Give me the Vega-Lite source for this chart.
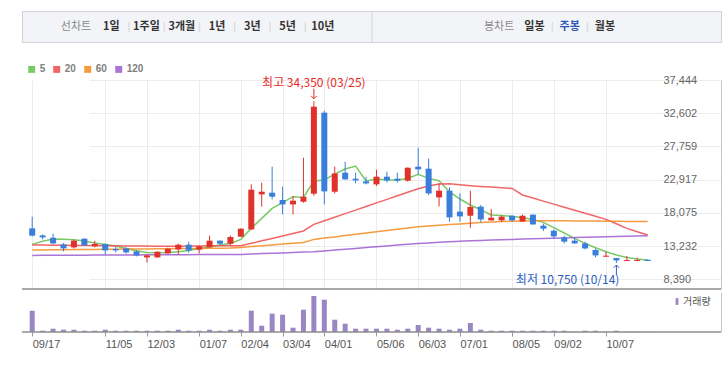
{
"$schema": "https://vega.github.io/schema/vega-lite/v6.json",
"padding": {"left": 21, "top": 10, "right": 0, "bottom": 0},
"background": "white",
"config": {"view": {"stroke": null}, "font": "Liberation Sans", "axis": {"labelFont": "Liberation Sans", "labelOverlap": false}, "legend": {"labelFont": "Liberation Sans"}},
"datasets": {
"hdr": [{"t":"선차트"},{"t":"1일"},{"t":"1주일"},{"t":"3개월"},{"t":"1년"},{"t":"3년"},{"t":"5년"},{"t":"10년"},{"t":"봉차트"},{"t":"일봉"},{"t":"주봉"},{"t":"월봉"}],
"w": [
{"d":"2018-09-17","o":15800,"h":17510,"l":14630,"c":14740,"vol":2130,"5":13466,"20":13379,"60":12649,"120":11862},
{"d":"2018-09-24","o":14780,"h":14930,"l":14200,"c":14490,"vol":130,"5":13933,"20":13364,"60":12664,"120":11869},
{"d":"2018-10-01","o":14440,"h":15030,"l":13470,"c":13610,"vol":330,"5":14254,"20":13350,"60":12678,"120":11877},
{"d":"2018-10-08","o":13470,"h":13670,"l":12450,"c":12880,"vol":230,"5":14225,"20":13335,"60":12693,"120":11884},
{"d":"2018-10-15","o":13030,"h":14150,"l":12880,"c":14010,"vol":230,"5":14152,"20":13321,"60":12707,"120":11891},
{"d":"2018-10-22","o":14300,"h":14340,"l":13280,"c":13320,"vol":130,"5":13962,"20":13306,"60":12722,"120":11898},
{"d":"2018-10-29","o":13180,"h":14010,"l":13030,"c":13530,"vol":130,"5":13670,"20":13292,"60":12737,"120":11906},
{"d":"2018-11-05","o":13530,"h":13570,"l":11970,"c":12590,"vol":230,"5":13466,"20":13277,"60":12751,"120":11913},
{"d":"2018-11-12","o":12800,"h":13090,"l":12300,"c":12590,"vol":130,"5":13233,"20":13262,"60":12766,"120":11920},
{"d":"2018-11-19","o":12880,"h":13030,"l":12110,"c":12300,"vol":130,"5":12883,"20":13248,"60":12780,"120":11928},
{"d":"2018-11-26","o":12450,"h":12590,"l":11720,"c":11860,"vol":130,"5":12547,"20":13233,"60":12795,"120":11935},
{"d":"2018-12-03","o":11570,"h":12010,"l":10840,"c":11860,"vol":130,"5":12299,"20":13219,"60":12810,"120":11942},
{"d":"2018-12-10","o":11570,"h":12450,"l":11520,"c":12400,"vol":130,"5":12255,"20":13204,"60":12824,"120":11950},
{"d":"2018-12-17","o":12150,"h":12990,"l":12110,"c":12840,"vol":130,"5":12299,"20":13204,"60":12839,"120":11957},
{"d":"2018-12-24","o":12740,"h":13570,"l":11970,"c":13420,"vol":230,"5":12401,"20":13204,"60":12853,"120":11964},
{"d":"2018-12-31","o":13420,"h":13860,"l":12260,"c":12590,"vol":130,"5":12591,"20":13219,"60":12868,"120":11971},
{"d":"2019-01-07","o":12700,"h":13320,"l":12150,"c":13180,"vol":130,"5":12883,"20":13233,"60":12883,"120":11979},
{"d":"2019-01-14","o":13030,"h":14740,"l":12980,"c":14010,"vol":230,"5":13131,"20":13262,"60":12897,"120":11986},
{"d":"2019-01-21","o":14010,"h":14050,"l":13320,"c":13570,"vol":130,"5":13379,"20":13277,"60":12912,"120":11993},
{"d":"2019-01-28","o":13570,"h":14740,"l":13320,"c":14550,"vol":230,"5":13612,"20":13262,"60":12941,"120":12001},
{"d":"2019-02-04","o":14590,"h":15800,"l":14560,"c":15760,"vol":230,"5":14200,"20":13277,"60":13029,"120":12008},
{"d":"2019-02-11","o":15650,"h":22220,"l":15600,"c":21440,"vol":2130,"5":15800,"20":13627,"60":13145,"120":12066},
{"d":"2019-02-18","o":20760,"h":22470,"l":18970,"c":21150,"vol":630,"5":17258,"20":13991,"60":13277,"120":12125},
{"d":"2019-02-25","o":21010,"h":24800,"l":20030,"c":20420,"vol":1830,"5":18717,"20":14341,"60":13393,"120":12183},
{"d":"2019-03-04","o":19940,"h":21880,"l":17840,"c":19300,"vol":1730,"5":19548,"20":14706,"60":13510,"120":12227},
{"d":"2019-03-11","o":19300,"h":20530,"l":17840,"c":19840,"vol":430,"5":20423,"20":15056,"60":13641,"120":12285},
{"d":"2019-03-18","o":19690,"h":26110,"l":19550,"c":20420,"vol":2230,"5":20321,"20":15421,"60":13758,"120":12344},
{"d":"2019-03-25","o":20860,"h":34350,"l":20570,"c":33550,"vol":3600,"5":22713,"20":16383,"60":14195,"120":12402},
{"d":"2019-04-01","o":32680,"h":32970,"l":19300,"c":21200,"vol":3230,"5":22859,"20":16923,"60":14385,"120":12519},
{"d":"2019-04-08","o":21150,"h":24800,"l":20900,"c":23820,"vol":1230,"5":23705,"20":17433,"60":14560,"120":12650},
{"d":"2019-04-15","o":23920,"h":25530,"l":22900,"c":22950,"vol":830,"5":24463,"20":17958,"60":14750,"120":12767},
{"d":"2019-04-22","o":23050,"h":23920,"l":22360,"c":22800,"vol":330,"5":24901,"20":18469,"60":14939,"120":12884},
{"d":"2019-04-29","o":22660,"h":23300,"l":22220,"c":22360,"vol":330,"5":22713,"20":18994,"60":15114,"120":13000},
{"d":"2019-05-06","o":22220,"h":24360,"l":21980,"c":23340,"vol":330,"5":23005,"20":19519,"60":15304,"120":13131},
{"d":"2019-05-13","o":23340,"h":24070,"l":22510,"c":22800,"vol":330,"5":22859,"20":20030,"60":15494,"120":13248},
{"d":"2019-05-20","o":23050,"h":23920,"l":22470,"c":22760,"vol":230,"5":22859,"20":20555,"60":15683,"120":13365},
{"d":"2019-05-27","o":22760,"h":24700,"l":22610,"c":24650,"vol":330,"5":23092,"20":21080,"60":15858,"120":13496},
{"d":"2019-06-03","o":24800,"h":27570,"l":23680,"c":24410,"vol":700,"5":23676,"20":21590,"60":16048,"120":13613},
{"d":"2019-06-10","o":24510,"h":25970,"l":20670,"c":20900,"vol":430,"5":23092,"20":21984,"60":16150,"120":13686},
{"d":"2019-06-17","o":20320,"h":22360,"l":19010,"c":21300,"vol":330,"5":22757,"20":22290,"60":16252,"120":13773},
{"d":"2019-06-24","o":21300,"h":21780,"l":16780,"c":17410,"vol":230,"5":21152,"20":22319,"60":16354,"120":13846},
{"d":"2019-07-01","o":18240,"h":20900,"l":16780,"c":17550,"vol":330,"5":20088,"20":22173,"60":16456,"120":13933},
{"d":"2019-07-08","o":17650,"h":21300,"l":15900,"c":18920,"vol":900,"5":19213,"20":22028,"60":16558,"120":14006},
{"d":"2019-07-15","o":18970,"h":19210,"l":16680,"c":17110,"vol":230,"5":18528,"20":21911,"60":16646,"120":14050},
{"d":"2019-07-22","o":16970,"h":18630,"l":16930,"c":17360,"vol":130,"5":17755,"20":21823,"60":16719,"120":14108},
{"d":"2019-07-29","o":16970,"h":17700,"l":16780,"c":17510,"vol":130,"5":17697,"20":21736,"60":16792,"120":14152},
{"d":"2019-08-05","o":17650,"h":17700,"l":16780,"c":16970,"vol":130,"5":17551,"20":21634,"60":16850,"120":14196},
{"d":"2019-08-12","o":16820,"h":17800,"l":16730,"c":17650,"vol":130,"5":17405,"20":20671,"60":16894,"120":14254},
{"d":"2019-08-19","o":17800,"h":17850,"l":16330,"c":16380,"vol":130,"5":17113,"20":20234,"60":16923,"120":14298},
{"d":"2019-08-26","o":16190,"h":16490,"l":15420,"c":15760,"vol":130,"5":16676,"20":19782,"60":16923,"120":14342},
{"d":"2019-09-02","o":15460,"h":15650,"l":14340,"c":14630,"vol":130,"5":15903,"20":19344,"60":16923,"120":14371},
{"d":"2019-09-09","o":14490,"h":14740,"l":13610,"c":13860,"vol":130,"5":15130,"20":18892,"60":16908,"120":14415},
{"d":"2019-09-16","o":14010,"h":14490,"l":13600,"c":13610,"vol":30,"5":14341,"20":18454,"60":16894,"120":14458},
{"d":"2019-09-23","o":13610,"h":13860,"l":12740,"c":12880,"vol":130,"5":13612,"20":18002,"60":16879,"120":14502},
{"d":"2019-09-30","o":12650,"h":12880,"l":11570,"c":11860,"vol":130,"5":12985,"20":17565,"60":16865,"120":14531},
{"d":"2019-10-07","o":11670,"h":12400,"l":11650,"c":11820,"vol":30,"5":12401,"20":17113,"60":16850,"120":14575},
{"d":"2019-10-14","o":11480,"h":11500,"l":10750,"c":11130,"vol":130,"5":11920,"20":16485,"60":16835,"120":14619},
{"d":"2019-10-21","o":11050,"h":11770,"l":11020,"c":11190,"vol":30,"5":11570,"20":15800,"60":16821,"120":14662},
{"d":"2019-10-28","o":11050,"h":11530,"l":11020,"c":11190,"vol":30,"5":11337,"20":15318,"60":16806,"120":14692},
{"d":"2019-11-04","o":11230,"h":11230,"l":11050,"c":11050,"vol":30,"5":11191,"20":14838,"60":16792,"120":14736}
]},
"spacing": 21,
"resolve": {"scale": {"color": "independent"}, "legend": {"color": "independent"}},
"vconcat": [
{
 "width": 699, "height": 31,
 "view": {"fill": "#f3f4f7", "stroke": "#cfd2d8"},
 "data": {"name": "hdr"},
 "encoding": {"x": {"field": "t", "type": "nominal", "scale": {"type": "point", "domain": ["_0","선차트","1일","1주일","3개월","1년","3년","5년","10년","_a","_b","_c","_d","봉차트","일봉","주봉","월봉","_e","_f","_g"], "padding": 0.41, "align": 0.646}, "axis": null}},
 "layer": [
  {"transform": [{"filter": {"field": "t", "oneOf": ["선차트","봉차트"]}}], "mark": {"type": "text", "font": "Noto Sans CJK KR", "fontSize": 11, "color": "#8a8a8a"}, "encoding": {"text": {"field": "t"}}},
  {"transform": [{"filter": {"not": {"field": "t", "oneOf": ["선차트","봉차트"]}}}], "mark": {"type": "text", "font": "Noto Sans CJK KR", "fontSize": 11, "fontWeight": "bold"}, "encoding": {"text": {"field": "t"}, "color": {"condition": {"test": "datum.t === '주봉'", "value": "#2b57b8"}, "value": "#333333"}}},
  {"transform": [{"filter": {"field": "t", "oneOf": ["1주일","3개월","1년","3년","5년","10년","주봉","월봉"]}}], "mark": {"type": "text", "text": "|", "dx": -17.6, "fontSize": 11, "color": "#d3d3d3"}},
  {"transform": [{"filter": {"field": "t", "equal": "선차트"}}], "mark": {"type": "rule", "color": "#cfd2d8", "xOffset": 14}, "encoding": {"x": {"datum": "_a"}}}
 ]
},
{
 "spacing": 2,
 "resolve": {"scale": {"color": "independent"}, "legend": {"color": "independent"}},
 "vconcat": [
 {
  "width": 699, "height": 209,
  "data": {"name": "w"},
  "layer": [
   {"transform": [{"fold": ["5","20","60","120"], "as": ["ma","v"]}],
    "mark": {"type": "line", "strokeWidth": 1.5, "opacity": 0.85},
    "encoding": {
     "x": {"field": "d", "type": "temporal",
       "scale": {"type": "utc", "domain": [{"year":2018,"month":9,"date":13,"hours":12,"utc":true},{"year":2019,"month":11,"date":4,"hours":21,"utc":true}], "range": [0, 632]},
       "axis": {"values": [{"year":2018,"month":9,"date":17,"utc":true},{"year":2018,"month":11,"date":5,"utc":true},{"year":2018,"month":12,"date":3,"utc":true},{"year":2019,"month":1,"date":7,"utc":true},{"year":2019,"month":2,"date":4,"utc":true},{"year":2019,"month":3,"date":4,"utc":true},{"year":2019,"month":4,"date":1,"utc":true},{"year":2019,"month":5,"date":6,"utc":true},{"year":2019,"month":6,"date":3,"utc":true},{"year":2019,"month":7,"date":1,"utc":true},{"year":2019,"month":8,"date":5,"utc":true},{"year":2019,"month":9,"date":2,"utc":true},{"year":2019,"month":10,"date":7,"utc":true}],
         "tickCount": 20, "grid": true, "gridColor": "#ececec", "labels": false, "ticks": false, "domain": false, "title": null}},
     "y": {"field": "v", "type": "quantitative",
       "scale": {"domain": [6961, 37444], "nice": false, "zero": false},
       "axis": {"orient": "right", "values": [8390, 13232.33, 18074.67, 22917, 27759.33, 32601.67, 37444], "tickCount": 12, "format": ",.0f", "title": null, "grid": true, "gridColor": "#ececec", "ticks": false, "tickSize": 0, "domain": true, "domainColor": "#c6c6c6", "labelPadding": -58, "labelAlign": "left", "labelColor": "#666666", "labelFontSize": 11, "labelFlush": false, "labelOverlap": false}},
     "color": {"field": "ma", "type": "nominal", "scale": {"domain": ["5","20","60","120"], "range": ["#62c04c","#ee4b4b","#f5891f","#9e5ccf"]},
       "legend": {"orient": "none", "legendX": 4.7, "legendY": -16, "direction": "horizontal", "title": null, "symbolType": "square", "symbolSize": 6, "symbolStrokeWidth": 4.5, "labelFontSize": 10, "labelFontWeight": "bold", "labelColor": "#808080", "labelOffset": 3, "columnPadding": 0}}
    }},
   {"mark": {"type": "rule", "strokeWidth": 1},
    "encoding": {"x": {"field": "d", "type": "temporal"}, "y": {"field": "l", "type": "quantitative"}, "y2": {"field": "h"},
     "color": {"condition": {"test": "datum.c >= datum.o", "value": "#e0322b"}, "value": "#3a7edc"}}},
   {"mark": {"type": "bar", "size": 6},
    "encoding": {"x": {"field": "d", "type": "temporal"}, "y": {"field": "o", "type": "quantitative"}, "y2": {"field": "c"},
     "color": {"condition": {"test": "datum.c >= datum.o", "value": "#e0322b"}, "value": "#3a7edc"}}},
   {"transform": [{"filter": {"field": "h", "equal": 34350}}],
    "mark": {"type": "text", "text": "최고 34,350 (03/25)", "dy": -18.5, "color": "#e8281f", "font": "Noto Sans CJK KR", "fontSize": 12},
    "encoding": {"x": {"field": "d", "type": "temporal"}, "y": {"field": "h", "type": "quantitative"}}},
   {"transform": [{"filter": {"field": "h", "equal": 34350}}],
    "mark": {"type": "rule", "color": "#e8281f", "strokeWidth": 1, "yOffset": -12.5, "y2Offset": -2.5},
    "encoding": {"x": {"field": "d", "type": "temporal"}, "y": {"field": "h", "type": "quantitative"}, "y2": {"field": "h"}}},
   {"transform": [{"filter": {"field": "h", "equal": 34350}}],
    "mark": {"type": "point", "shape": "M-1,-1L0,0L1,-1", "size": 30, "filled": false, "stroke": "#e8281f", "strokeWidth": 1, "opacity": 1, "yOffset": -2.5},
    "encoding": {"x": {"field": "d", "type": "temporal"}, "y": {"field": "h", "type": "quantitative"}}},
   {"transform": [{"filter": {"field": "l", "equal": 10750}}],
    "mark": {"type": "text", "text": "최저 10,750 (10/14)", "align": "right", "dx": 3, "dy": 17, "color": "#2e5ebf", "font": "Noto Sans CJK KR", "fontSize": 12},
    "encoding": {"x": {"field": "d", "type": "temporal"}, "y": {"field": "l", "type": "quantitative"}}},
   {"transform": [{"filter": {"field": "l", "equal": 10750}}],
    "mark": {"type": "rule", "color": "#2e5ebf", "strokeWidth": 1, "yOffset": 2, "y2Offset": 12},
    "encoding": {"x": {"field": "d", "type": "temporal"}, "y": {"field": "l", "type": "quantitative"}, "y2": {"field": "l"}}},
   {"transform": [{"filter": {"field": "l", "equal": 10750}}],
    "mark": {"type": "point", "shape": "M-1,1L0,0L1,1", "size": 30, "filled": false, "stroke": "#2e5ebf", "strokeWidth": 1, "opacity": 1, "yOffset": 2},
    "encoding": {"x": {"field": "d", "type": "temporal"}, "y": {"field": "l", "type": "quantitative"}}},
   {"transform": [{"filter": {"field": "h", "equal": 34350}}],
    "mark": {"type": "rule", "color": "#8c8c8c", "strokeWidth": 1.5},
    "encoding": {"y": {"datum": 6961, "type": "quantitative"}}}
  ]
 },
 {
  "width": 699, "height": 40,
  "data": {"name": "w"},
  "layer": [
   {"mark": {"type": "bar", "size": 5},
    "encoding": {
     "x": {"field": "d", "type": "temporal",
       "scale": {"type": "utc", "domain": [{"year":2018,"month":9,"date":13,"hours":12,"utc":true},{"year":2019,"month":11,"date":4,"hours":21,"utc":true}], "range": [0, 632]},
       "axis": {"values": [{"year":2018,"month":9,"date":17,"utc":true},{"year":2018,"month":11,"date":5,"utc":true},{"year":2018,"month":12,"date":3,"utc":true},{"year":2019,"month":1,"date":7,"utc":true},{"year":2019,"month":2,"date":4,"utc":true},{"year":2019,"month":3,"date":4,"utc":true},{"year":2019,"month":4,"date":1,"utc":true},{"year":2019,"month":5,"date":6,"utc":true},{"year":2019,"month":6,"date":3,"utc":true},{"year":2019,"month":7,"date":1,"utc":true},{"year":2019,"month":8,"date":5,"utc":true},{"year":2019,"month":9,"date":2,"utc":true},{"year":2019,"month":10,"date":7,"utc":true}],
         "tickCount": 20, "format": "%m/%d", "labelAlign": "left", "labelPadding": 2, "labelFontSize": 11, "labelColor": "#555555", "tickSize": 4, "tickColor": "#999999", "domain": false, "grid": false, "title": null, "labelFlush": false, "labelOverlap": false}},
     "y": {"field": "vol", "type": "quantitative", "scale": {"domain": [0, 4000], "nice": false},
       "axis": {"orient": "right", "labels": false, "ticks": false, "grid": false, "title": null, "domain": true, "domainColor": "#c6c6c6"}},
     "color": {"datum": "거래량", "type": "nominal", "scale": {"domain": ["거래량"], "range": ["#9a86c4"]},
       "legend": {"orient": "none", "legendX": 650, "legendY": 4.5, "title": null, "symbolType": "M-0.35,-0.85L0.35,-0.85L0.35,0.85L-0.35,0.85Z", "symbolSize": 64, "labelOffset": 1, "labelFontSize": 10, "labelColor": "#555555", "labelFont": "Noto Sans CJK KR"}}
    }},
   {"transform": [{"filter": {"field": "h", "equal": 34350}}],
    "mark": {"type": "rule", "color": "#8c8c8c", "strokeWidth": 1.5},
    "encoding": {"y": {"datum": 0, "type": "quantitative"}}}
  ]
 }
 ]
}
]
}
